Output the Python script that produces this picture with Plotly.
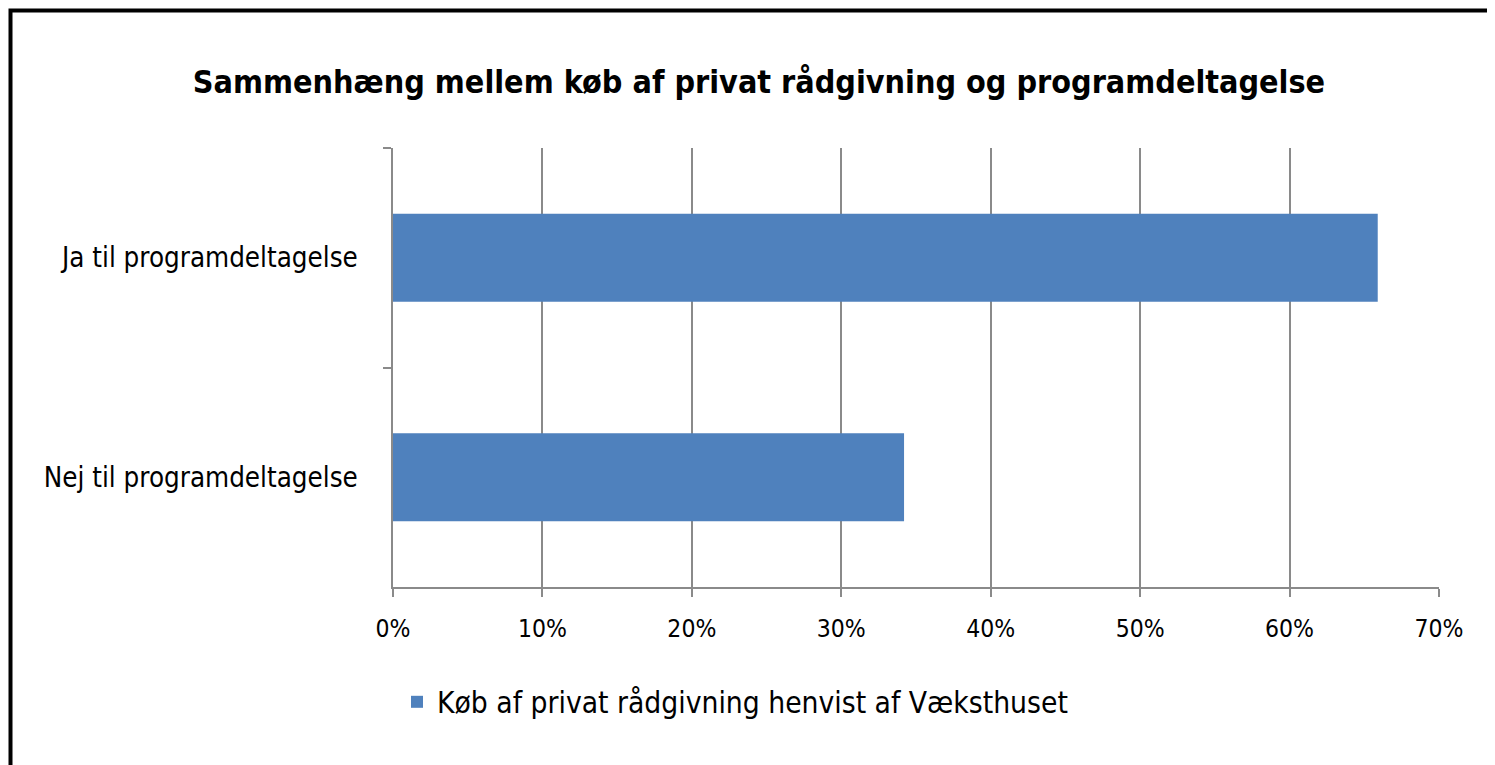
import plotly.graph_objects as go

categories = ["Ja til programdeltagelse", "Nej til programdeltagelse"]
values = [0.659, 0.342]
series_name = "Køb af privat rådgivning henvist af Væksthuset"
title_text = "Sammenhæng mellem køb af privat rådgivning og programdeltagelse"

FONT = "Liberation Sans Narrow, DejaVu Sans Condensed, Arial Narrow, sans-serif"
OFF = 8  # page body margin
W, H = 1495, 765
L = 393 - OFF
T = 148 - OFF
R = W - (1439 - OFF)
B = H - (587 - OFF)
pw, ph = W - L - R, H - T - B


def px_to_paper_x(p):
    return (p - OFF - L) / pw


def px_to_paper_y(p):
    return (H - B - (p - OFF)) / ph


fig = go.Figure()
fig.add_trace(go.Bar(
    x=values, y=categories, orientation="h", name=series_name,
    marker=dict(color="#4F81BD", line=dict(width=0)), width=0.4,
    showlegend=True,
))

fig.add_shape(type="rect", xref="paper", yref="paper",
              x0=px_to_paper_x(10.5), x1=px_to_paper_x(1700),
              y0=px_to_paper_y(1000), y1=px_to_paper_y(10.5),
              line=dict(color="black", width=4), fillcolor="rgba(0,0,0,0)", layer="above")

fig.update_layout(
    width=W, height=H,
    margin=dict(l=L, r=R, t=T, b=B),
    paper_bgcolor="white", plot_bgcolor="white",
    font=dict(family=FONT, color="black", size=28),
    title=dict(text="<b>" + title_text + "</b>", x=((193 + 1325) / 2 - OFF) / W, xanchor="center",
               y=1 - (82 - OFF) / H, yanchor="middle", font=dict(family=FONT, size=32, color="black")),
    xaxis=dict(range=[0, 0.7], dtick=0.1, tickformat=".0%", showgrid=True,
               gridcolor="#8a8a8a", gridwidth=1.5, showline=True, linecolor="#8a8a8a", linewidth=1.5,
               ticks="outside", ticklen=8, tickcolor="#8a8a8a", tickwidth=1.5,
               ticklabelstandoff=11, zeroline=False, fixedrange=True,
               tickfont=dict(size=24.5)),
    yaxis=dict(autorange="reversed", showline=True, linecolor="#8a8a8a", linewidth=1.5,
               ticks="outside", ticklen=8, tickcolor="#8a8a8a", tickwidth=1.5,
               tickson="boundaries", showgrid=False, ticklabelstandoff=28,
               tickfont=dict(size=27.5)),
    legend=dict(orientation="h", x=(397 - OFF) / W, xanchor="left", xref="container",
                y=1 - (702 - OFF) / H, yanchor="middle", yref="container",
                font=dict(size=29.7), itemwidth=30, bgcolor="rgba(0,0,0,0)"),
    bargap=0.6,
)

fig.write_html("out.html")
